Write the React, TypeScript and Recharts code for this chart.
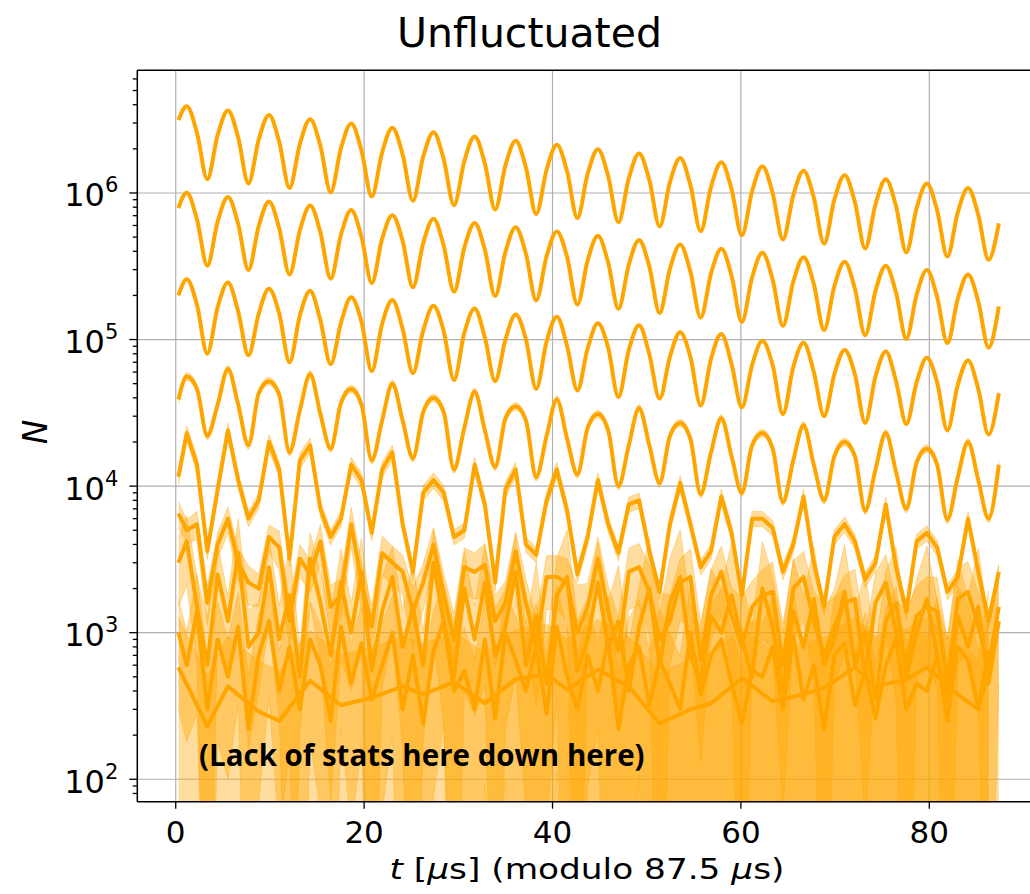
import { ComposedChart, Line, Area, XAxis, YAxis, CartesianGrid, ReferenceLine } from 'recharts';

// bin centres, t [us] modulo 87.5 us
const times = [
  0.29,
  1.17, 2.26, 3.35, 4.45, 5.54, 6.63, 7.72, 8.81, 9.9, 10.99,
  12.08, 13.18, 14.27, 15.36, 16.45, 17.54, 18.63, 19.72, 20.81, 21.91,
  23.0, 24.09, 25.18, 26.27, 27.36, 28.45, 29.54, 30.64, 31.73, 32.82,
  33.91, 35.0, 36.09, 37.18, 38.27, 39.37, 40.46, 41.55, 42.64, 43.73,
  44.82, 45.91, 47.0, 48.1, 49.19, 50.28, 51.37, 52.46, 53.55, 54.64,
  55.73, 56.83, 57.92, 59.01, 60.1, 61.19, 62.28, 63.37, 64.46, 65.56,
  66.65, 67.74, 68.83, 69.92, 71.01, 72.1, 73.19, 74.29, 75.38, 76.47,
  77.56, 78.65, 79.74, 80.83, 81.92, 83.02, 84.11, 85.2, 86.29, 87.38,
];

// one curve per 87.5 us turn, top to bottom
const turn0 = [
  3.15e6,
  3.91e6, 2.56e6, 1.24e6, 2.48e6,
  3.65e6, 2.39e6, 1.16e6, 2.31e6,
  3.41e6, 2.23e6, 1.08e6, 2.16e6,
  3.19e6, 2.09e6, 1.01e6, 2.02e6,
  2.98e6, 1.95e6, 9.45e5, 1.89e6,
  2.79e6, 1.83e6, 8.84e5, 1.77e6,
  2.6e6, 1.7e6, 8.24e5, 1.65e6,
  2.43e6, 1.59e6, 7.7e5, 1.54e6,
  2.27e6, 1.49e6, 7.2e5, 1.44e6,
  2.13e6, 1.4e6, 6.75e5, 1.35e6,
  1.99e6, 1.3e6, 6.31e5, 1.26e6,
  1.86e6, 1.22e6, 5.9e5, 1.18e6,
  1.73e6, 1.13e6, 5.48e5, 1.1e6,
  1.62e6, 1.06e6, 5.14e5, 1.03e6,
  1.52e6, 9.96e5, 4.82e5, 9.64e5,
  1.42e6, 9.3e5, 4.5e5, 9.0e5,
  1.32e6, 8.65e5, 4.18e5, 8.37e5,
  1.24e6, 8.12e5, 3.93e5, 7.86e5,
  1.16e6, 7.6e5, 3.68e5, 7.35e5,
  1.08e6, 7.07e5, 3.5e5, 6.2e5,
];
const turn1 = [
  7.9e5,
  1.005e6, 6.58e5, 3.19e5, 6.37e5,
  9.38e5, 6.14e5, 2.98e5, 5.94e5,
  8.76e5, 5.73e5, 2.78e5, 5.55e5,
  8.2e5, 5.37e5, 2.6e5, 5.19e5,
  7.66e5, 5.01e5, 2.43e5, 4.86e5,
  7.05e5, 4.7e5, 2.27e5, 4.55e5,
  6.68e5, 4.37e5, 2.12e5, 4.24e5,
  6.25e5, 4.09e5, 1.98e5, 3.96e5,
  5.83e5, 3.83e5, 1.85e5, 3.7e5,
  5.47e5, 3.65e5, 1.73e5, 3.47e5,
  5.11e5, 3.34e5, 1.62e5, 3.24e5,
  4.78e5, 3.14e5, 1.52e5, 3.03e5,
  4.45e5, 2.9e5, 1.41e5, 2.83e5,
  4.16e5, 2.72e5, 1.32e5, 2.65e5,
  3.91e5, 2.56e5, 1.24e5, 2.48e5,
  3.65e5, 2.39e5, 1.16e5, 2.31e5,
  3.39e5, 2.22e5, 1.07e5, 2.15e5,
  3.19e5, 2.09e5, 1.01e5, 2.02e5,
  2.98e5, 1.95e5, 9.46e4, 1.89e5,
  2.78e5, 1.82e5, 8.8e4, 1.68e5,
];
const turn2 = [
  2.0e5,
  2.58e5, 1.72e5, 8.0e4, 1.66e5,
  2.45e5, 1.55e5, 7.8e4, 1.5e5,
  2.22e5, 1.5e5, 7.0e4, 1.46e5,
  2.15e5, 1.35e5, 6.8e4, 1.3e5,
  1.94e5, 1.32e5, 6.1e4, 1.28e5,
  1.86e5, 1.18e5, 5.9e4, 1.15e5,
  1.7e5, 1.14e5, 5.3e4, 1.11e5,
  1.63e5, 1.03e5, 5.2e4, 1.0e5,
  1.48e5, 1.0e5, 4.6e4, 9.7e4,
  1.43e5, 9.0e4, 4.5e4, 8.7e4,
  1.29e5, 8.8e4, 4.05e4, 8.5e4,
  1.25e5, 7.9e4, 3.95e4, 7.6e4,
  1.12e5, 7.6e4, 3.55e4, 7.4e4,
  1.09e5, 6.8e4, 3.45e4, 6.7e4,
  9.8e4, 6.7e4, 3.1e4, 6.5e4,
  9.5e4, 6.0e4, 3.0e4, 5.8e4,
  8.5e4, 5.8e4, 2.7e4, 5.6e4,
  8.3e4, 5.2e4, 2.65e4, 5.1e4,
  7.5e4, 5.1e4, 2.4e4, 4.9e4,
  7.2e4, 4.6e4, 2.25e4, 4.3e4,
];
const turn3 = [
  3.9e4,
  5.6e4, 4.6e4, 2.2e4, 3.6e4,
  6.3e4, 3.6e4, 1.9e4, 4.3e4,
  5.2e4, 4.2e4, 1.7e4, 3.3e4,
  5.8e4, 3.1e4, 1.8e4, 3.7e4,
  4.6e4, 3.6e4, 1.5e4, 2.8e4,
  5.0e4, 2.8e4, 1.55e4, 3.2e4,
  4.0e4, 3.2e4, 1.3e4, 2.5e4,
  4.4e4, 2.4e4, 1.35e4, 2.9e4,
  3.5e4, 2.8e4, 1.15e4, 2.2e4,
  3.9e4, 2.1e4, 1.2e4, 2.5e4,
  3.1e4, 2.4e4, 1.0e4, 1.9e4,
  3.4e4, 1.9e4, 1.05e4, 2.2e4,
  2.7e4, 2.1e4, 8.8e3, 1.7e4,
  2.9e4, 1.6e4, 9.0e3, 1.9e4,
  2.3e4, 1.8e4, 7.8e3, 1.5e4,
  2.6e4, 1.4e4, 8.0e3, 1.6e4,
  2.0e4, 1.6e4, 6.8e3, 1.3e4,
  2.3e4, 1.25e4, 7.0e3, 1.45e4,
  1.8e4, 1.4e4, 5.9e3, 1.15e4,
  2.0e4, 1.1e4, 6.0e3, 1.4e4,
];
const turn4 = [
  1.16e4,
  2.3e4, 1.4e4, 3.6e3, 9.5e3,
  2.4e4, 1.1e4, 6.0e3, 8.0e3,
  2.0e4, 1.3e4, 3.2e3, 1.5e4,
  1.9e4, 7.0e3, 4.5e3, 6.0e3,
  1.4e4, 1.1e4, 4.8e3, 1.3e4,
  1.7e4, 5.5e3, 2.6e3, 9.0e3,
  1.1e4, 9.0e3, 4.5e3, 5.0e3,
  1.4e4, 7.5e3, 2.2e3, 9.5e3,
  1.3e4, 4.0e3, 3.4e3, 8.0e3,
  1.3e4, 6.8e3, 2.5e3, 4.5e3,
  1.1e4, 5.5e3, 3.5e3, 7.5e3,
  8.0e3, 3.6e3, 1.9e3, 5.5e3,
  1.05e4, 5.5e3, 2.8e3, 3.6e3,
  8.5e3, 4.8e3, 1.8e3, 6.0e3,
  6.0e3, 5.2e3, 2.6e3, 4.0e3,
  8.5e3, 3.0e3, 1.5e3, 4.5e3,
  5.5e3, 4.2e3, 2.3e3, 3.0e3,
  7.5e3, 2.8e3, 1.4e3, 4.2e3,
  4.8e3, 3.8e3, 1.9e3, 2.4e3,
  6.0e3, 2.6e3, 1.2e3, 2.6e3,
];
const turn5 = [
  6.5e3,
  5.0e3, 5.5e3, 1.6e3, 4.0e3,
  6.0e3, 3.0e3, 2.2e3, 2.0e3,
  4.5e3, 3.8e3, 1.2e3, 3.2e3,
  2.5e3, 4.2e3, 1.5e3, 1.8e3,
  5.5e3, 2.2e3, 1.1e3, 3.5e3,
  3.0e3, 2.6e3, 1.4e3, 2.2e3,
  4.0e3, 1.8e3, 9.0e2, 2.8e3,
  2.6e3, 2.9e3, 1.2e3, 1.6e3,
  3.6e3, 1.6e3, 8.0e2, 2.4e3,
  2.4e3, 2.2e3, 1.0e3, 1.5e3,
  3.2e3, 1.4e3, 7.5e2, 2.6e3,
  2.8e3, 1.9e3, 9.0e2, 1.2e3,
  2.2e3, 2.4e3, 6.5e2, 1.8e3,
  2.6e3, 1.3e3, 8.0e2, 1.5e3,
  1.8e3, 1.9e3, 6.0e2, 2.0e3,
  2.4e3, 1.2e3, 7.0e2, 1.1e3,
  1.6e3, 1.7e3, 5.0e2, 1.6e3,
  2.2e3, 1.0e3, 6.5e2, 1.3e3,
  1.5e3, 1.4e3, 4.5e2, 1.7e3,
  1.9e3, 1.1e3, 6.0e2, 1.5e3,
];
const turn6 = [
  3.0e3,
  4.2e3, 1.5e3, 6.0e2, 2.5e3,
  1.2e3, 3.5e3, 8.0e2, 1.0e3,
  2.8e3, 9.0e2, 1.8e3, 5.0e2,
  3.2e3, 1.6e3, 7.0e2, 2.2e3,
  1.0e3, 2.6e3, 5.5e2, 1.4e3,
  2.4e3, 8.0e2, 1.5e3, 6.0e2,
  3.0e3, 1.2e3, 5.0e2, 2.0e3,
  9.0e2, 2.2e3, 7.0e2, 1.1e3,
  2.6e3, 6.0e2, 1.3e3, 4.5e2,
  1.8e3, 2.4e3, 5.5e2, 9.0e2,
  2.2e3, 8.0e2, 1.2e3, 4.0e2,
  1.1e3, 2.0e3, 6.0e2, 1.6e3,
  2.4e3, 7.0e2, 4.5e2, 1.3e3,
  1.0e3, 1.8e3, 9.0e2, 5.0e2,
  2.0e3, 1.1e3, 4.0e2, 1.4e3,
  8.0e2, 1.7e3, 6.0e2, 9.0e2,
  1.9e3, 6.0e2, 1.0e3, 3.5e2,
  1.2e3, 1.6e3, 5.0e2, 1.0e3,
  1.7e3, 7.0e2, 3.5e2, 1.3e3,
  8.0e2, 1.5e3, 4.5e2, 1.2e3,
];
const turn7 = [
  1.0e3,
  6.0e2, 1.4e3, 3.0e2, 9.0e2,
  5.0e2, 1.1e3, 2.2e2, 7.0e2,
  1.2e3, 4.0e2, 8.0e2, 3.0e2,
  9.0e2, 6.0e2, 2.5e2, 1.1e3,
  4.5e2, 8.5e2, 3.5e2, 6.0e2,
  1.0e3, 3.0e2, 7.0e2, 2.4e2,
  7.5e2, 1.2e3, 4.0e2, 5.5e2,
  3.0e2, 9.0e2, 2.6e2, 1.0e3,
  6.5e2, 4.0e2, 8.0e2, 2.8e2,
  1.1e3, 5.0e2, 3.0e2, 7.0e2,
  4.0e2, 9.0e2, 2.2e2, 6.0e2,
  8.0e2, 3.2e2, 6.5e2, 4.5e2,
  3.0e2, 1.0e3, 3.8e2, 7.0e2,
  9.0e2, 4.5e2, 2.4e2, 5.5e2,
  5.0e2, 8.0e2, 3.0e2, 9.5e2,
  3.5e2, 6.0e2, 2.2e2, 7.0e2,
  8.5e2, 3.2e2, 5.5e2, 2.6e2,
  6.0e2, 9.0e2, 3.0e2, 4.5e2,
  4.0e2, 7.0e2, 2.5e2, 8.0e2,
  6.5e2, 3.0e2, 7.5e2, null,
];
const turn8 = [
  580,
  null, null, 230, null,
  430, null, null, 290,
  null, 250, null, null,
  470, null, null, 320,
  null, null, 360, null,
  null, 430, null, 380,
  null, null, 460, null,
  null, 330, null, null,
  480, null, null, 520,
  null, 410, null, null,
  560, null, null, 430,
  null, null, 240, null,
  null, 300, null, 330,
  null, null, 490, null,
  null, 340, null, null,
  380, null, 420, null,
  null, 580, null, 430,
  null, null, 480, null,
  580, null, null, 380,
  null, 300, 560, null,
];

// relative errors for the noisy turns
const errTurn5 = [
  0.2,
  0.18, 0.22, 0.3, 0.2,
  0.2, 0.25, 0.3, 0.25,
  0.2, 0.3, 0.35, 0.25,
  0.25, 0.3, 0.4, 0.3,
  0.3, 0.35, 0.4, 0.3,
  0.3, 0.3, 0.45, 0.35,
  0.3, 0.4, 0.5, 0.35,
  0.35, 0.4, 0.5, 0.4,
  0.35, 0.45, 0.6, 0.4,
  0.4, 0.45, 1.1, 0.45,
  0.4, 0.5, 0.7, 0.45,
  0.45, 0.5, 1.1, 0.5,
  0.45, 0.55, 0.8, 0.5,
  0.5, 0.55, 1.2, 0.5,
  0.5, 0.6, 0.9, 0.55,
  0.5, 0.6, 1.2, 0.6,
  0.55, 0.6, 0.9, 0.6,
  0.55, 0.65, 1.2, 0.6,
  0.6, 0.7, 1.0, 0.65,
  0.6, 0.7, 1.3, 0.7,
];
const errTurn6 = [
  0.5,
  0.5, 0.6, 1.1, 0.6,
  0.5, 0.7, 0.8, 0.6,
  0.6, 0.7, 1.2, 0.6,
  0.5, 0.6, 0.9, 0.7,
  0.6, 0.7, 1.2, 0.7,
  0.6, 0.8, 1.0, 0.7,
  0.7, 0.8, 1.3, 0.8,
  0.7, 0.8, 1.1, 0.8,
  0.8, 0.9, 1.3, 0.9,
  0.8, 1.1, 1.2, 0.9,
  0.9, 1.0, 1.4, 1.1,
  0.9, 1.2, 1.3, 1.0,
  1.1, 1.2, 1.4, 1.1,
  1.0, 1.3, 1.5, 1.2,
  1.1, 1.2, 1.5, 1.3,
  1.2, 1.3, 1.4, 1.2,
  1.1, 1.3, 1.6, 1.3,
  1.2, 1.4, 1.5, 1.3,
  1.3, 1.4, 1.6, 1.4,
  1.2, 1.5, 1.6, 1.4,
];
const errTurn7 = [
  0.7,
  0.7, 0.8, 1.2, 0.8,
  0.8, 0.7, 1.3, 0.9,
  0.7, 0.9, 0.8, 1.2,
  0.8, 0.9, 1.3, 0.8,
  0.9, 0.8, 1.1, 0.9,
  0.8, 1.3, 0.9, 1.3,
  0.9, 0.8, 1.2, 1.0,
  1.2, 0.9, 1.3, 0.9,
  1.0, 1.2, 1.0, 1.4,
  0.9, 1.1, 1.3, 1.0,
  1.2, 1.0, 1.4, 1.1,
  1.1, 1.3, 1.2, 1.2,
  1.3, 1.1, 1.4, 1.2,
  1.2, 1.3, 1.5, 1.2,
  1.3, 1.2, 1.5, 1.1,
  1.2, 1.4, 1.3, 1.5,
  1.3, 1.2, 1.5, 1.3,
  1.4, 1.3, 1.6, 1.4,
  1.3, 1.5, 1.4, 1.6,
  1.4, 1.5, 1.6, 1.5,
];

const turns = [turn0, turn1, turn2, turn3, turn4, turn5, turn6, turn7, turn8];
const turnErr: (number | number[])[] = [0.006, 0.012, 0.025, 0.06, 0.12, errTurn5, errTurn6, errTurn7, 1.2];

const xTicks = [0, 20, 40, 60, 80];
const yMajor = [1e2, 1e3, 1e4, 1e5, 1e6];
const mantissas = [2, 3, 4, 5, 6, 7, 8, 9];

const X_DOMAIN: [number, number] = [-4.08, 90.69];
const Y_DOMAIN: [number, number] = [70.3, 6.87e6];
const ORANGE = '#ffa500';
const FONT = 'DejaVu Sans';

const yTicks = [
  ...yMajor,
  ...[10, ...yMajor].flatMap((d) => mantissas.map((m) => m * d)),
].filter((v) => v >= Y_DOMAIN[0] && v <= Y_DOMAIN[1]);

const rows = times.map((t, i) => {
  const row: any = { t };
  turns.forEach((arr, s) => {
    const v = arr[i];
    const e = Array.isArray(turnErr[s]) ? (turnErr[s] as number[])[i] : (turnErr[s] as number);
    row[`n${s}`] = v;
    row[`band${s}`] = v == null ? null : [Math.max(v * (1 - e), 1), v * (1 + e)];
  });
  return row;
});

const YTick = (props: any) => {
  const { x, y, payload } = props;
  const lg = Math.log10(payload.value);
  const exp = Math.round(lg);
  const major = Math.abs(lg - exp) < 1e-6;
  return (
    <g>
      <line x1={x - (major ? 8 : 4.5)} x2={x} y1={y} y2={y} stroke="#000" strokeWidth={1.3} />
      {major && (
        <text x={x - 19} y={y + 13.5} textAnchor="end" fontFamily={FONT} fontSize={32} fill="#000">
          10<tspan dy={-14} fontSize={21}>{exp}</tspan>
        </text>
      )}
    </g>
  );
};

const XTick = (props: any) => {
  const { x, y, payload } = props;
  return (
    <text x={x} y={y + 34} textAnchor="middle" fontFamily={FONT} fontSize={31} fill="#000">
      {payload.value}
    </text>
  );
};

export default function App() {
  return (
    <div style={{ position: 'absolute', left: 0, top: 0, width: 1030, height: 894, overflow: 'hidden', background: '#fff' }}>
      <ComposedChart width={1030} height={894} data={rows} margin={{ top: 70.3, right: 0, bottom: 0, left: 0 }}>
        <CartesianGrid
          stroke="#b0b0b0"
          strokeWidth={1.2}
          horizontalValues={yMajor}
          verticalValues={xTicks}
        />
        <XAxis
          type="number"
          dataKey="t"
          domain={X_DOMAIN}
          ticks={xTicks}
          interval={0}
          allowDataOverflow
          height={92.3}
          tickSize={7}
          tickMargin={0}
          tick={<XTick />}
          axisLine={{ stroke: '#000', strokeWidth: 1.5 }}
          tickLine={{ stroke: '#000', strokeWidth: 1.3 }}
        />
        <YAxis
          type="number"
          scale="log"
          domain={Y_DOMAIN}
          ticks={yTicks}
          interval={0}
          allowDataOverflow
          width={137.3}
          tickSize={0}
          tickMargin={0}
          tick={<YTick />}
          tickLine={false}
          axisLine={{ stroke: '#000', strokeWidth: 1.5 }}
        />
        <ReferenceLine y={Y_DOMAIN[1]} stroke="#000" strokeWidth={1.5} />
        {turns.map((_, s) => (
          <Area
            key={`band${s}`}
            dataKey={`band${s}`}
            type={s < 4 ? 'monotone' : 'linear'}
            fill={ORANGE}
            fillOpacity={0.38}
            stroke={ORANGE}
            strokeOpacity={0.35}
            strokeWidth={1}
            connectNulls
            isAnimationActive={false}
            dot={false}
            activeDot={false}
          />
        ))}
        {turns.map((_, s) => (
          <Line
            key={`n${s}`}
            dataKey={`n${s}`}
            type={s < 4 ? 'monotone' : 'linear'}
            stroke={ORANGE}
            strokeWidth={4}
            strokeLinejoin="round"
            connectNulls
            dot={false}
            activeDot={false}
            isAnimationActive={false}
          />
        ))}
      </ComposedChart>
      <svg width={1030} height={894} style={{ position: 'absolute', left: 0, top: 0, pointerEvents: 'none' }}>
        <text x={529.5} y={47} textAnchor="middle" fontFamily={FONT} fontSize={41} fill="#000">
          Unfluctuated
        </text>
        <text transform="translate(47,432) rotate(-90)" textAnchor="middle" fontFamily={FONT} fontStyle="italic" fontSize={33} fill="#000">
          N
        </text>
        <text x={587} y={879} textAnchor="middle" fontFamily={FONT} fontSize={29} textLength={395} lengthAdjust="spacingAndGlyphs" fill="#000">
          <tspan fontStyle="italic">t</tspan> [<tspan fontStyle="italic">μ</tspan>s] (modulo 87.5 <tspan fontStyle="italic">μ</tspan>s)
        </text>
        <text x={199} y={766} fontFamily="Open Sans" fontWeight="bold" fontSize={29.5} fill="#000">
          (Lack of stats here down here)
        </text>
      </svg>
    </div>
  );
}
